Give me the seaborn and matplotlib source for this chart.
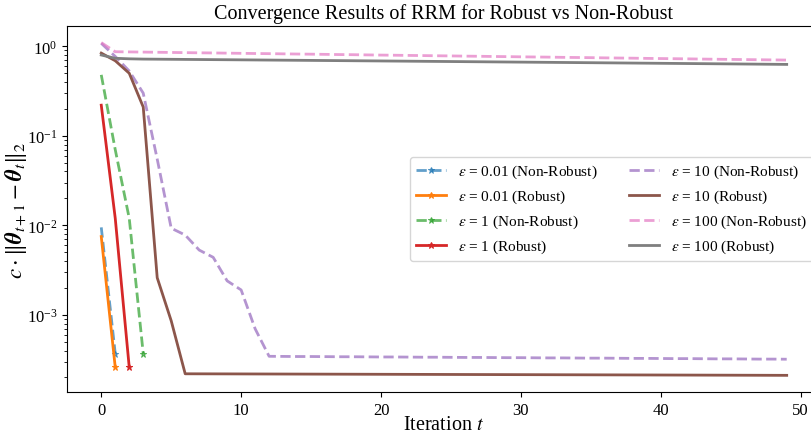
import numpy as np
import pandas as pd
import matplotlib
matplotlib.use("Agg")
import matplotlib.pyplot as plt
import seaborn as sns

# valores (escala log)
iters_short_1 = [0, 1]
iters_short_2 = [0, 1, 2]
iters_short_3 = [0, 1, 2, 3]
iters_long = list(range(50))

eps001_nonrobust = [0.0095, 0.00037]
eps001_robust = [0.0075, 0.00026]
eps1_nonrobust = [0.48, 0.07, 0.012, 0.00037]
eps1_robust = [0.22, 0.012, 0.00026]

eps10_nonrobust = [1.08, 0.77, 0.53, 0.30, 0.055, 0.0093, 0.0078, 0.0053, 0.0044, 0.0024,
                   0.0019, 0.00070, 0.000345] + [v * 1e-4 for v in [
                   3.44, 3.43, 3.43, 3.42, 3.41, 3.41, 3.40,
                   3.39, 3.39, 3.38, 3.37, 3.37, 3.36, 3.35, 3.35, 3.34, 3.33,
                   3.33, 3.32, 3.31, 3.31, 3.30, 3.29, 3.29, 3.28, 3.27, 3.27,
                   3.26, 3.25, 3.25, 3.24, 3.23, 3.23, 3.22, 3.21, 3.21, 3.20]]
eps10_robust = [0.84, 0.69, 0.50, 0.21, 0.0026, 0.00086, 0.000220] + [v * 1e-4 for v in [
                2.198, 2.196, 2.194,
                2.192, 2.190, 2.188, 2.186, 2.184, 2.182, 2.180, 2.178, 2.176, 2.174,
                2.172, 2.170, 2.168, 2.166, 2.164, 2.162, 2.160, 2.158, 2.156, 2.154,
                2.152, 2.150, 2.148, 2.146, 2.144, 2.142, 2.140, 2.138, 2.136, 2.134,
                2.132, 2.130, 2.128, 2.126, 2.124, 2.122, 2.120, 2.118, 2.116, 2.114]]
eps100_nonrobust = [1.10,
                    0.870, 0.866, 0.862, 0.858, 0.854, 0.850, 0.846, 0.843, 0.839, 0.835,
                    0.831, 0.828, 0.824, 0.820, 0.817, 0.813, 0.809, 0.806, 0.802, 0.798,
                    0.795, 0.791, 0.788, 0.784, 0.781, 0.777, 0.774, 0.770, 0.767, 0.763,
                    0.760, 0.757, 0.753, 0.750, 0.747, 0.743, 0.740, 0.737, 0.733, 0.730,
                    0.727, 0.724, 0.720, 0.717, 0.714, 0.711, 0.708, 0.705, 0.702]
eps100_robust = [0.80, 0.735, 0.725,
                 0.720, 0.718, 0.716, 0.714, 0.712, 0.710, 0.708, 0.706,
                 0.704, 0.702, 0.700, 0.698, 0.696, 0.694, 0.692, 0.690, 0.688, 0.686,
                 0.684, 0.682, 0.680, 0.678, 0.676, 0.674, 0.672, 0.670, 0.668, 0.666,
                 0.664, 0.662, 0.660, 0.658, 0.656, 0.654, 0.652, 0.650, 0.648, 0.646,
                 0.644, 0.642, 0.640, 0.638, 0.636, 0.634, 0.632, 0.630, 0.628]

plt.rcParams['font.family'] = ['Liberation Serif', 'DejaVu Serif']
plt.rcParams['mathtext.fontset'] = 'stix'

colors = sns.color_palette('tab10')

series = [
    (iters_short_1, eps001_nonrobust, r'$\varepsilon$ = 0.01 (Non-Robust)', colors[0], '--', True),
    (iters_short_1, eps001_robust, r'$\varepsilon$ = 0.01 (Robust)', colors[1], '-', True),
    (iters_short_3, eps1_nonrobust, r'$\varepsilon$ = 1 (Non-Robust)', colors[2], '--', True),
    (iters_short_2, eps1_robust, r'$\varepsilon$ = 1 (Robust)', colors[3], '-', True),
    (iters_long, eps10_nonrobust, r'$\varepsilon$ = 10 (Non-Robust)', colors[4], '--', False),
    (iters_long, eps10_robust, r'$\varepsilon$ = 10 (Robust)', colors[5], '-', False),
    (iters_long, eps100_nonrobust, r'$\varepsilon$ = 100 (Non-Robust)', colors[6], '--', False),
    (iters_long, eps100_robust, r'$\varepsilon$ = 100 (Robust)', colors[7], '-', False),
]

fig = plt.figure(figsize=(8.11, 4.35), dpi=100)
ax = fig.add_axes([0.0826, 0.0966, 0.9297, 0.8414])

for x, y, label, color, ls, star in series:
    if star:
        kw = dict(marker='*', markersize=5, markevery=[-1],
                  markeredgecolor=color, markerfacecolor=color)
    else:
        kw = {}
    alpha = 0.7 if ls == '--' else 1.0
    sns.lineplot(x=x, y=y, ax=ax, label=label, color=color, linestyle=ls,
                 linewidth=2, alpha=alpha, **kw)

ax.set_yscale('log')
ax.set_title('Convergence Results of RRM for Robust vs Non-Robust', fontsize=14.5)
ax.set_xlabel('Iteration $t$', fontsize=14.5, labelpad=-2)
ax.set_ylabel(r'$c \cdot \|\boldsymbol{\theta}_{t+1} - \boldsymbol{\theta}_t\|_2$',
              fontsize=16.5, labelpad=-2)
ax.tick_params(labelsize=12)
ax.legend(ncol=2, loc='center right', fontsize=11)

plt.savefig('out.png', dpi=100)
